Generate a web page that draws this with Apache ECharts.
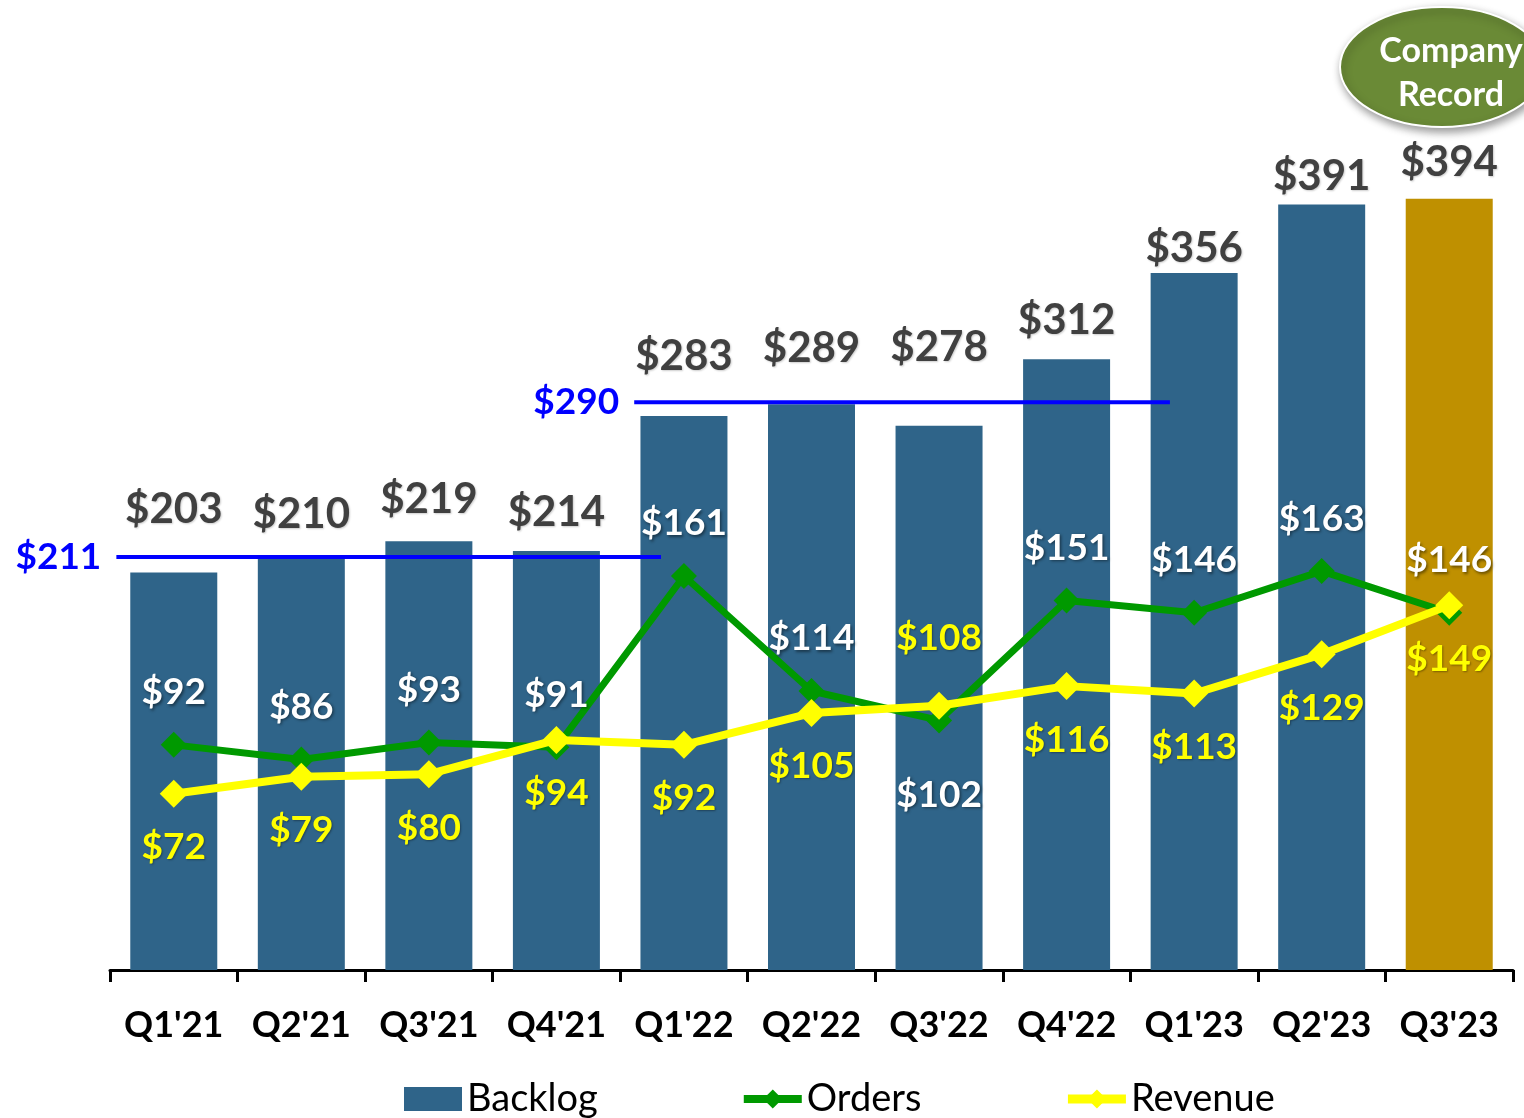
<!DOCTYPE html>
<html>
<head>
<meta charset="utf-8">
<script src="https://cdn.jsdelivr.net/npm/echarts@6/dist/echarts.min.js"></script>
<style>
html,body{margin:0;padding:0;background:#fff;}
#chart{width:1524px;height:1118px;}
</style>
</head>
<body>
<div id="chart"></div>
<script>
// ---- data ----
const categories = ["Q1'21","Q2'21","Q3'21","Q4'21","Q1'22","Q2'22","Q3'22","Q4'22","Q1'23","Q2'23","Q3'23"];
const backlog = [203, 210, 219, 214, 283, 289, 278, 312, 356, 391, 394];
const orders  = [92, 86, 93, 91, 161, 114, 102, 151, 146, 163, 146];
const revenue = [72, 79, 80, 94, 92, 105, 108, 116, 113, 129, 149];
// average backlog reference lines: value and span in category units
const avgValues = [211, 290];
const avgSpanStart = [-0.45, 3.61];
const avgSpanEnd = [3.82, 7.81];

// ---- styling (not data) ----
const backlogLabelLift = [38, 19, 17, 14, 34, 31, 53, 14, 0, 3, 11];
const FONT = 'Lato, "Open Sans", sans-serif';
const barBlue = '#2F6489';
const barGold = '#BF9000';
const shadow = {textShadowColor:'rgba(0,0,0,0.45)', textShadowBlur:3, textShadowOffsetX:1.5, textShadowOffsetY:1.5};

const chart = echarts.init(document.getElementById('chart'), null, {renderer:'canvas'});

const barData = backlog.map((v, i) => ({
  value: v,
  itemStyle: { color: i === backlog.length - 1 ? barGold : barBlue },
  label: { offset: [0, -backlogLabelLift[i]] }
}));

const ordersData = orders.map((v, i) => i === 6
  ? { value: v, label: { position: 'bottom', distance: 43 } }
  : v);
const revenueData = revenue.map((v, i) => i === 6
  ? { value: v, label: { position: 'top', distance: 35 } }
  : v);

const avgSeries = avgValues.map((v, k) => ({
  name: 'avg' + k,
  type: 'line',
  xAxisIndex: 1,
  yAxisIndex: 0,
  z: 3,
  symbol: 'circle',
  symbolSize: 0.1,
  lineStyle: { color: '#0000FF', width: 4 },
  itemStyle: { color: '#0000FF' },
  data: [
    { value: [avgSpanStart[k], v], label: { show: true, position: 'left', distance: 15,
      formatter: '$' + v, color: '#0000FF', fontFamily: FONT, fontWeight: 'bold', fontSize: 37 } },
    { value: [avgSpanEnd[k], v] }
  ],
  silent: true
}));

chart.setOption({
  animation: false,
  backgroundColor: '#ffffff',
  grid: { left: 110, right: 11, top: 89, bottom: 148, containLabel: false, outerBoundsMode: 'none' },
  legend: {
    left: 399, top: 1075,
    itemGap: 142, itemWidth: 58, itemHeight: 24,
    textStyle: { fontFamily: FONT, fontSize: 38, color: '#000' },
    data: [
      { name: 'Backlog', icon: 'rect' },
      { name: 'Orders', lineStyle: { width: 8 } },
      { name: 'Revenue', lineStyle: { width: 9 } }
    ]
  },
  xAxis: [
    {
      type: 'category',
      data: categories,
      axisLine: { lineStyle: { color: '#000', width: 3 } },
      axisTick: { show: true, interval: 0, length: 12, lineStyle: { color: '#000', width: 3 } },
      axisLabel: { interval: 0, hideOverlap: false, color: '#000', fontFamily: FONT, fontWeight: 'bold', fontSize: 36, margin: 37 },
      splitLine: { show: false }
    },
    { type: 'value', min: -0.5, max: 10.5, show: false }
  ],
  yAxis: [
    { type: 'value', min: 0, max: 450, show: false, splitLine: { show: false } },
    { type: 'value', min: 0, max: 360, show: false, splitLine: { show: false } }
  ],
  series: [
    {
      name: 'Backlog', type: 'bar', barWidth: 87, z: 2,
      itemStyle: { color: barBlue },
      label: { show: true, position: 'top', distance: 4, formatter: '${c}',
        color: '#404040', fontFamily: FONT, fontWeight: 'bold', fontSize: 42,
        textShadowColor: 'rgba(0,0,0,0.2)', textShadowBlur: 2, textShadowOffsetX: 1, textShadowOffsetY: 1 },
      data: barData
    },
    ...avgSeries,
    {
      name: 'Orders', type: 'line', yAxisIndex: 1, z: 4,
      symbol: 'diamond', symbolSize: 26,
      lineStyle: { color: '#009900', width: 7 },
      itemStyle: { color: '#009900' },
      label: { show: true, position: 'top', distance: 21, formatter: '${c}',
        color: '#ffffff', fontFamily: FONT, fontWeight: 'bold', fontSize: 37, ...shadow },
      data: ordersData
    },
    {
      name: 'Revenue', type: 'line', yAxisIndex: 1, z: 5,
      symbol: 'diamond', symbolSize: 28,
      lineStyle: { color: '#FFFF00', width: 8 },
      itemStyle: { color: '#FFFF00' },
      label: { show: true, position: 'bottom', distance: 21, formatter: '${c}',
        color: '#FFFF00', fontFamily: FONT, fontWeight: 'bold', fontSize: 37,
        textShadowColor: 'rgba(0,0,0,0.35)', textShadowBlur: 2, textShadowOffsetX: 1, textShadowOffsetY: 1 },
      data: revenueData
    }
  ],
  graphic: [
    {
      type: 'ellipse', z: 10,
      shape: { cx: 1442, cy: 67, rx: 102, ry: 60 },
      style: { fill: '#6A8A36', stroke: '#ffffff', lineWidth: 2,
        shadowColor: 'rgba(0,0,0,0.4)', shadowBlur: 8, shadowOffsetX: 2, shadowOffsetY: 4 }
    },
    {
      type: 'text', z: 11, x: 1451, y: 51,
      style: { text: 'Company', fill: '#fff', font: 'bold 34px ' + FONT, align: 'center', verticalAlign: 'middle',
        shadowColor: 'rgba(0,0,0,0.5)', shadowBlur: 3, shadowOffsetX: 1, shadowOffsetY: 1 }
    },
    {
      type: 'text', z: 11, x: 1451, y: 95,
      style: { text: 'Record', fill: '#fff', font: 'bold 34px ' + FONT, align: 'center', verticalAlign: 'middle',
        shadowColor: 'rgba(0,0,0,0.5)', shadowBlur: 3, shadowOffsetX: 1, shadowOffsetY: 1 }
    }
  ]
});
</script>
</body>
</html>
